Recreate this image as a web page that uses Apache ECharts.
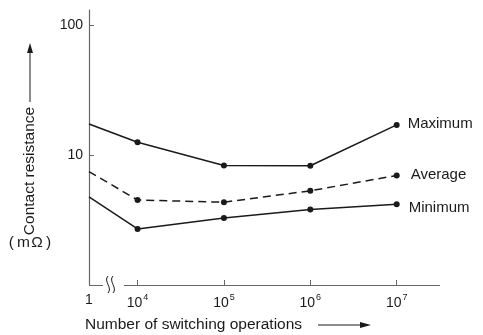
<!DOCTYPE html>
<html><head><meta charset="utf-8">
<script src="https://cdn.jsdelivr.net/npm/echarts@6/dist/echarts.min.js"></script>
<style>html,body{margin:0;padding:0;background:#fff}#c{width:483px;height:335px}</style>
</head><body><div id="c"></div>
<script>
// x values are exponents of 10 (0 -> 1 operation, 4 -> 10^4, ...)
var xExponents = [0, 4, 5, 6, 7];
var xTickExponents = [4, 5, 6, 7];
var maximum = [17.3, 12.5, 8.3, 8.25, 17.0];
var average = [7.45, 4.5, 4.33, 5.3, 6.95];
var minimum = [4.75, 2.7, 3.28, 3.8, 4.18];
var yTicks = [10, 100];
var seriesNames = ['Maximum', 'Average', 'Minimum'];

var FONT = 'Liberation Sans';
var INK = '#1a1a1a';
function pairs(vals){ return xExponents.map(function(x,i){ return [x, vals[i]]; }); }
function mk(name, vals, dashed, off){
  return {
    name: name, type: 'line', data: pairs(vals),
    symbol: 'circle', symbolSize: function(v){ return v[0] === 0 ? 0 : 6; },
    showSymbol: true,
    lineStyle: {color: INK, width: 1.5, type: dashed ? [8,5] : 'solid'},
    itemStyle: {color: INK},
    endLabel: {show: true, formatter: '{a}', distance: 11, offset: off,
      fontFamily: FONT, fontSize: 15, color: INK},
    animation: false, silent: true
  };
}
var chart = echarts.init(document.getElementById('c'), null, {renderer: 'canvas'});
chart.setOption({
  animation: false,
  grid: {left: 89, right: 44, top: 10, bottom: 50, containLabel: false},
  xAxis: {
    type: 'value', min: 0, max: 7.49,
    breaks: [{start: 0.15, end: 3.85, gap: 0.262}],
    breakArea: {show: false},
    axisLine: {lineStyle: {color: '#666', width: 1.2}},
    axisTick: {show: true, inside: true, length: 5, customValues: xTickExponents, lineStyle: {color: '#666'}},
    axisLabel: {customValues: xExponents, margin: 8, fontFamily: FONT, fontSize: 14, color: INK,
      formatter: function(v){ return v === 0 ? '1' : '{b|10}{s|' + v + '}'; },
      rich: {b: {fontFamily: FONT, fontSize: 14, color: INK}, s: {fontFamily: FONT, fontSize: 9, color: INK, padding: [0,0,11,1]}}},
    splitLine: {show: false}
  },
  yAxis: {
    type: 'log', min: 1, max: 130, logBase: 10,
    axisLine: {show: true, lineStyle: {color: '#666', width: 1.2}},
    axisTick: {show: true, inside: true, length: 5, customValues: yTicks, lineStyle: {color: '#666'}},
    axisLabel: {customValues: yTicks, margin: 6, fontFamily: FONT, fontSize: 14, color: INK},
    splitLine: {show: false}
  },
  series: [mk(seriesNames[0], maximum, false, [0,-1]), mk(seriesNames[1], average, true, [3,-1]), mk(seriesNames[2], minimum, false, [1,4])],
  graphic: [
    {type: 'text', x: 30, y: 171, rotation: Math.PI/2, style: {text: 'Contact resistance', fontFamily: FONT, fontSize: 15.5, fill: INK, align: 'center', verticalAlign: 'middle'}},
    {type: 'line', shape: {x1: 30, y1: 102, x2: 30, y2: 50}, style: {stroke: INK, lineWidth: 1}},
    {type: 'polygon', shape: {points: [[30,43],[27,53],[33,53]]}, style: {fill: INK}},
    {type: 'text', x: 30, y: 243, style: {text: '(\u2009m\u200a\u03a9\u2009)', fontFamily: FONT, fontSize: 15.5, fill: INK, align: 'center', verticalAlign: 'middle'}},
    {type: 'text', x: 85, y: 325, style: {text: 'Number of switching operations', fontFamily: FONT, fontSize: 15.5, fill: INK, align: 'left', verticalAlign: 'middle'}},
    {type: 'line', shape: {x1: 318, y1: 325, x2: 362, y2: 325}, style: {stroke: INK, lineWidth: 1}},
    {type: 'polygon', shape: {points: [[371,325],[360,322],[360,328]]}, style: {fill: INK}},
    {type: 'bezierCurve', shape: {x1: 108, y1: 276, cpx1: 103, cpy1: 281, cpx2: 113, cpy2: 288, x2: 108, y2: 293}, style: {stroke: INK, lineWidth: 1, fill: null}},
    {type: 'bezierCurve', shape: {x1: 113, y1: 276, cpx1: 108, cpy1: 281, cpx2: 118, cpy2: 288, x2: 113, y2: 293}, style: {stroke: INK, lineWidth: 1, fill: null}}
  ]
});
</script></body></html>
